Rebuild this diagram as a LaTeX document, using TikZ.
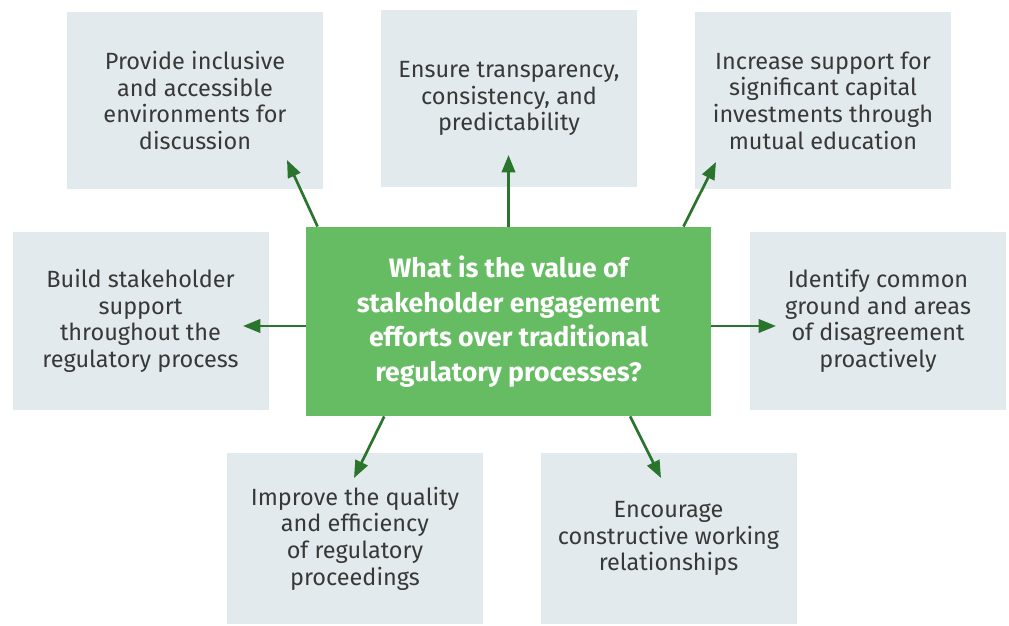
\documentclass[tikz,border=0pt]{standalone}
\usepackage{fontspec}
\setmainfont{Fira Sans}
\usetikzlibrary{arrows.meta}
\definecolor{boxgray}{HTML}{E3EAED}
\definecolor{leafgreen}{HTML}{66BC62}
\definecolor{arrowgreen}{HTML}{2A742E}
\definecolor{textgray}{HTML}{383838}
\begin{document}
\begin{tikzpicture}[x=0.75pt, y=-0.75pt, line join=round,
    goal/.style={fill=boxgray, text=textgray, align=center, inner sep=0pt,
      minimum width=192pt, minimum height=133pt, font=\fontsize{17.6}{20}\selectfont},
    question/.style={fill=leafgreen, text=white, align=center, inner sep=0pt,
      minimum width=304pt, minimum height=142pt, font=\fontsize{20}{26}\selectfont\bfseries},
    link/.style={draw=arrowgreen, line width=2pt, -{Triangle[length=13pt,width=10pt]}}]
  \useasboundingbox (0,0) rectangle (1009,625);
  % boxes around the question
  \node[goal] (inclusive) at (195,100.5) {Provide inclusive\\and accessible\\environments for\\discussion};
  \node[goal] (transparency) at (509,98.5) {Ensure transparency,\\consistency, and\\predictability};
  \node[goal] (investment) at (823,100.5) {Increase support for\\significant capital\\investments through\\mutual education};
  \node[goal] (support) at (140.5,321) {Build stakeholder\\support\\throughout the\\regulatory process};
  \node[goal] (common) at (878,321) {Identify common\\ground and areas\\of disagreement\\proactively};
  \node[goal, minimum height=128pt] (quality) at (355,538.5) {Improve the quality\\and efficiency\\of regulatory\\proceedings};
  \node[goal, minimum height=128pt] (working) at (668.5,538.5) {Encourage\\constructive working\\relationships};
  % the question itself
  \node[question] (value) at (508.5,321.5) {What is the value of\\stakeholder engagement\\efforts over traditional\\regulatory processes?};
  % arrow tips
  \coordinate (tipInclusive) at (287,160);
  \coordinate (tipTransparency) at (508.5,155);
  \coordinate (tipInvestment) at (716,162);
  \coordinate (tipSupport) at (243,326);
  \coordinate (tipCommon) at (776,326);
  \coordinate (tipQuality) at (354,478);
  \coordinate (tipWorking) at (661,478);
  % arrows
  \draw[link] ([xshift=9pt]value.north west) -- (tipInclusive);
  \draw[link] (value.north) -- (tipTransparency);
  \draw[link] ([xshift=-21pt]value.north east) -- (tipInvestment);
  \draw[link] (value.west |- tipSupport) -- (tipSupport);
  \draw[link] (value.east |- tipCommon) -- (tipCommon);
  \draw[link] ([xshift=59pt]value.south west) -- (tipQuality);
  \draw[link] ([xshift=-61pt]value.south east) -- (tipWorking);
\end{tikzpicture}
\end{document}
